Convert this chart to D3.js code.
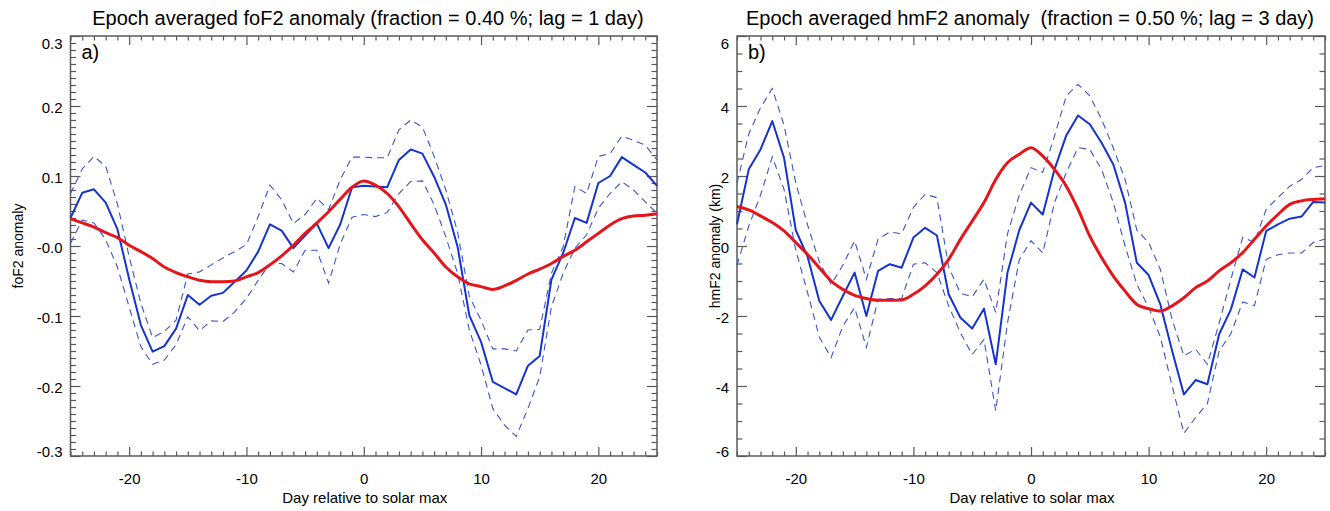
<!DOCTYPE html>
<html>
<head>
<meta charset="utf-8">
<script src="https://cdn.jsdelivr.net/npm/d3@7"></script>
<style>
  html, body { margin: 0; padding: 0; background: #fff; }
  svg { display: block; font-family: "Liberation Sans", Arial, Helvetica, sans-serif; }
</style>
</head>
<body>
<svg id="fig" width="1330" height="511"></svg>
<script>
// Day relative to solar maximum
const days = [-25,-24,-23,-22,-21,-20,-19,-18,-17,-16,-15,-14,-13,-12,-11,-10,-9,-8,-7,-6,-5,-4,-3,-2,-1,
  0,1,2,3,4,5,6,7,8,9,10,11,12,13,14,15,16,17,18,19,20,21,22,23,24,25];

// foF2 epoch-averaged anomaly, its spread band and the fitted curve
const foF2Mean = [0.040,0.076,0.081,0.062,0.024,-0.047,-0.113,-0.151,-0.143,-0.118,-0.070,-0.084,-0.071,-0.067,-0.051,-0.035,-0.008,0.031,0.022,-0.003,0.015,0.032,-0.003,0.031,0.084,
  0.086,0.085,0.084,0.123,0.138,0.132,0.099,0.059,-0.001,-0.099,-0.137,-0.194,-0.203,-0.212,-0.171,-0.157,-0.048,-0.010,0.040,0.033,0.090,0.100,0.127,0.116,0.105,0.086];
const foF2Upper = [0.075,0.110,0.128,0.114,0.060,-0.015,-0.082,-0.131,-0.122,-0.106,-0.040,-0.037,-0.027,-0.017,-0.008,0.002,0.042,0.087,0.066,0.032,0.045,0.068,0.052,0.095,0.127,
  0.127,0.126,0.126,0.166,0.180,0.170,0.128,0.080,0.020,-0.072,-0.106,-0.147,-0.147,-0.150,-0.120,-0.119,-0.039,-0.001,0.085,0.075,0.128,0.132,0.157,0.151,0.144,0.123];
const foF2Lower = [0.004,0.037,0.033,0.009,-0.030,-0.087,-0.144,-0.169,-0.163,-0.141,-0.101,-0.121,-0.107,-0.108,-0.094,-0.075,-0.049,-0.025,-0.025,-0.037,-0.006,-0.006,-0.053,0.003,0.041,
  0.045,0.042,0.048,0.075,0.092,0.093,0.059,0.013,-0.039,-0.120,-0.170,-0.232,-0.256,-0.272,-0.232,-0.187,-0.087,-0.039,-0.003,0.016,0.054,0.075,0.092,0.080,0.063,0.047];
const foF2Fit = [0.039,0.033,0.027,0.019,0.012,0.001,-0.008,-0.018,-0.030,-0.038,-0.044,-0.049,-0.051,-0.051,-0.050,-0.044,-0.038,-0.027,-0.014,0.001,0.018,0.033,0.049,0.067,0.084,
  0.093,0.087,0.075,0.056,0.032,0.009,-0.010,-0.030,-0.044,-0.054,-0.058,-0.062,-0.057,-0.049,-0.040,-0.033,-0.025,-0.015,-0.006,0.006,0.018,0.030,0.039,0.043,0.044,0.046];

// hmF2 epoch-averaged anomaly (km), its spread band and the fitted curve
const hmF2Mean = [0.62,2.19,2.76,3.57,2.52,0.45,-0.30,-1.57,-2.11,-1.43,-0.76,-2.00,-0.71,-0.52,-0.62,0.24,0.52,0.30,-1.38,-2.05,-2.36,-1.79,-3.38,-0.76,0.45,
  1.24,0.90,2.19,3.16,3.73,3.48,2.95,2.33,1.24,-0.48,-0.83,-1.67,-2.99,-4.24,-3.83,-3.95,-2.52,-1.81,-0.67,-0.90,0.43,0.62,0.78,0.84,1.26,1.24];
const hmF2Upper = [1.80,3.20,3.95,4.50,3.45,1.80,0.60,-0.45,-1.10,-0.55,0.15,-0.95,0.20,0.40,0.35,1.10,1.48,1.38,-0.60,-1.35,-1.45,-0.95,-1.90,0.35,1.45,
  2.24,2.10,3.14,4.29,4.62,4.29,3.62,2.80,1.90,0.45,0.10,-0.67,-2.10,-3.14,-2.95,-3.38,-2.20,-0.95,0.25,0.10,1.05,1.38,1.71,1.90,2.24,2.30];
const hmF2Lower = [-0.55,0.57,1.45,2.55,1.62,-0.12,-1.33,-2.60,-3.19,-2.29,-1.76,-2.90,-1.52,-1.50,-1.50,-0.52,-0.48,-0.76,-1.71,-2.48,-3.10,-2.67,-4.71,-2.20,-0.40,
  0.15,-0.20,1.24,2.10,2.81,2.76,2.19,1.24,0.00,-1.10,-1.75,-2.60,-4.00,-5.35,-4.90,-4.50,-3.00,-2.50,-1.60,-1.70,-0.38,-0.25,-0.20,-0.20,0.10,0.20];
const hmF2Fit = [1.13,1.03,0.86,0.67,0.43,0.10,-0.24,-0.62,-1.00,-1.24,-1.41,-1.50,-1.55,-1.55,-1.54,-1.38,-1.14,-0.81,-0.38,0.19,0.71,1.24,1.90,2.38,2.62,
  2.81,2.57,2.19,1.71,1.05,0.28,-0.33,-0.86,-1.29,-1.67,-1.79,-1.86,-1.71,-1.48,-1.19,-1.00,-0.71,-0.48,-0.19,0.19,0.57,0.90,1.19,1.29,1.33,1.35];

// Axis ticks and labels
const xTicks = [-20, -10, 0, 10, 20];
const xTickLabels = ["-20", "-10", "0", "10", "20"];
const yTicksA = [-0.3, -0.2, -0.1, 0, 0.1, 0.2, 0.3];
const yTickLabelsA = ["-0.3", "-0.2", "-0.1", "-0.0", "0.1", "0.2", "0.3"];
const yTicksB = [-6, -4, -2, 0, 2, 4, 6];
const yTickLabelsB = ["-6", "-4", "-2", "0", "2", "4", "6"];

const titles = [
  "Epoch averaged foF2 anomaly (fraction = 0.40 %; lag = 1 day)",
  "Epoch averaged hmF2 anomaly  (fraction = 0.50 %; lag = 3 day)"
];
const yTitles = ["foF2 anomaly", "hmF2 anomaly (km)"];
const xTitle = "Day relative to solar max";
const panelTags = ["a)", "b)"];

const COL = { mean: "#1533cf", band: "#3b55c9", fit: "#e5151b", frame: "#5a5a5a" };

const svg = d3.select("#fig");

const panels = [
  { left: 70.5, right: 657, top: 36, bottom: 456, titleX: 368,
    yDomain: [-0.3, 0.3], yTicks: yTicksA, yLabels: yTickLabelsA, yMinorStep: 0.01,
    mean: foF2Mean, upper: foF2Upper, lower: foF2Lower, fit: foF2Fit, clipTitle: false },
  { left: 737, right: 1325, top: 36, bottom: 456, titleX: 1030,
    yDomain: [-6, 6], yTicks: yTicksB, yLabels: yTickLabelsB, yMinorStep: 0.5,
    mean: hmF2Mean, upper: hmF2Upper, lower: hmF2Lower, fit: hmF2Fit, clipTitle: true }
];

panels.forEach((p, i) => {
  const x = d3.scaleLinear().domain([-25, 25]).range([p.left, p.right]);
  const y = d3.scaleLinear().domain(p.yDomain).range([p.bottom, p.top]);
  const g = svg.append("g");

  const xMinor = d3.range(-25, 26).filter(d => xTicks.indexOf(d) < 0);
  const nMinor = Math.round((p.yDomain[1] - p.yDomain[0]) / p.yMinorStep);
  const yMinor = d3.range(nMinor + 1).map(k => +(p.yDomain[0] + k * p.yMinorStep).toFixed(4))
    .filter(v => !p.yTicks.some(t => Math.abs(t - v) < 1e-9));

  const styleAxis = sel => {
    sel.select(".domain").remove();
    sel.selectAll("line").attr("stroke", COL.frame).attr("stroke-width", 1.2);
    sel.selectAll("text").attr("fill", "#000").style("font-size", "15px")
      .style("font-family", '"Liberation Sans", Arial, Helvetica, sans-serif');
  };

  // bottom axis with labels
  g.append("g").attr("transform", `translate(0,${p.bottom})`)
    .call(d3.axisBottom(x).tickValues(xTicks).tickSize(-9).tickPadding(17)
      .tickFormat((d, k) => xTickLabels[k]))
    .call(styleAxis);
  g.append("g").attr("transform", `translate(0,${p.bottom})`)
    .call(d3.axisBottom(x).tickValues(xMinor).tickSize(-4.5).tickFormat(""))
    .call(styleAxis);
  // top axis, ticks only
  g.append("g").attr("transform", `translate(0,${p.top})`)
    .call(d3.axisTop(x).tickValues(xTicks).tickSize(-9).tickFormat(""))
    .call(styleAxis);
  g.append("g").attr("transform", `translate(0,${p.top})`)
    .call(d3.axisTop(x).tickValues(xMinor).tickSize(-4.5).tickFormat(""))
    .call(styleAxis);
  // left axis with labels
  const yl = g.append("g").attr("transform", `translate(${p.left},0)`)
    .call(d3.axisLeft(y).tickValues(p.yTicks).tickSize(-10).tickPadding(8)
      .tickFormat((d, k) => p.yLabels[k]))
    .call(styleAxis);
  yl.selectAll(".tick text").attr("dy", (d) => {
    if (d === p.yDomain[1]) return "0.8em";
    if (d === p.yDomain[0]) return "0.0em";
    return "0.45em";
  });
  g.append("g").attr("transform", `translate(${p.left},0)`)
    .call(d3.axisLeft(y).tickValues(yMinor).tickSize(-5.5).tickFormat(""))
    .call(styleAxis);
  // right axis, ticks only
  g.append("g").attr("transform", `translate(${p.right},0)`)
    .call(d3.axisRight(y).tickValues(p.yTicks).tickSize(-10).tickFormat(""))
    .call(styleAxis);
  g.append("g").attr("transform", `translate(${p.right},0)`)
    .call(d3.axisRight(y).tickValues(yMinor).tickSize(-5.5).tickFormat(""))
    .call(styleAxis);

  // frame
  g.append("rect")
    .attr("x", p.left).attr("y", p.top)
    .attr("width", p.right - p.left).attr("height", p.bottom - p.top)
    .attr("fill", "none").attr("stroke", COL.frame).attr("stroke-width", 1.5);

  // data lines
  const line = arr => d3.line().x((d, k) => x(days[k])).y(d => y(d))(arr);
  const smooth = arr => d3.line().curve(d3.curveMonotoneX).x((d, k) => x(days[k])).y(d => y(d))(arr);

  [p.upper, p.lower].forEach(band => {
    g.append("path").attr("d", line(band))
      .attr("fill", "none").attr("stroke", COL.band)
      .attr("stroke-width", 1.1).attr("stroke-dasharray", "7,5");
  });
  g.append("path").attr("d", line(p.mean))
    .attr("fill", "none").attr("stroke", COL.mean).attr("stroke-width", 2)
    .attr("stroke-linejoin", "round");
  g.append("path").attr("d", smooth(p.fit))
    .attr("fill", "none").attr("stroke", COL.fit).attr("stroke-width", 3)
    .attr("stroke-linejoin", "round");

  // panel tag
  g.append("text").attr("x", p.left + 11).attr("y", p.top + 23)
    .style("font-size", "20px").text(panelTags[i]);

  // title
  g.append("text").attr("x", p.titleX).attr("y", 25)
    .attr("text-anchor", "middle").style("font-size", "20px")
    .style("white-space", "pre").attr("xml:space", "preserve").text(titles[i]);

  // y title
  g.append("text")
    .attr("transform", `translate(${p.left - (i === 0 ? 48 : 17)},${(p.top + p.bottom) / 2}) rotate(-90)`)
    .attr("text-anchor", "middle").style("font-size", "14px").text(yTitles[i]);

  // x title
  if (p.clipTitle) {
    svg.append("clipPath").attr("id", "clipX" + i).append("rect")
      .attr("x", p.left).attr("y", 480).attr("width", p.right - p.left).attr("height", 24.5);
  }
  const xt = g.append("text").attr("x", (p.left + p.right) / 2 + 1).attr("y", 503)
    .attr("text-anchor", "middle").style("font-size", "15px").text(xTitle);
  if (p.clipTitle) xt.attr("clip-path", "url(#clipX" + i + ")");
});
</script>
</body>
</html>
